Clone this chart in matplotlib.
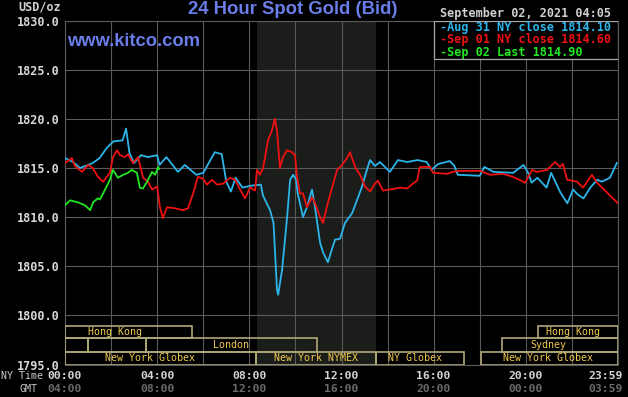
import matplotlib
matplotlib.use("Agg")
import matplotlib.pyplot as plt
import matplotlib.transforms as mtransforms
from matplotlib.patches import Rectangle

# ---- price traces (NY time in hours, USD/oz) ----
aug31_hours = [0.0, 0.35, 0.65, 1.0, 1.2, 1.5, 1.8, 2.1, 2.5, 2.65, 2.8, 3.0, 3.3, 3.6,
               4.0, 4.1, 4.4, 4.9, 5.2, 5.7, 6.0, 6.5, 6.8, 7.0, 7.2, 7.4, 7.7, 8.1,
               8.5, 8.59, 8.9, 9.05, 9.2, 9.25, 9.42, 9.64, 9.77, 9.9, 10.03, 10.1,
               10.33, 10.5, 10.72, 10.85, 11.07, 11.2, 11.41, 11.58, 11.72, 11.94,
               12.15, 12.46, 12.67, 12.89, 13.1, 13.24, 13.45, 13.67, 14.1, 14.45,
               14.85, 15.3, 15.7, 15.9, 16.2, 16.7, 16.9, 17.05, 18.0, 18.2, 18.6,
               19.45, 19.9, 20.1, 20.25, 20.5, 20.9, 21.1, 21.5, 21.8, 22.05, 22.25,
               22.5, 22.8, 23.1, 23.3, 23.65, 23.87, 23.95]
aug31_price = [1816.0, 1815.6, 1815.0, 1815.3, 1815.5, 1816.0, 1817.0, 1817.7, 1817.8,
               1819.0, 1816.5, 1815.5, 1816.3, 1816.1, 1816.3, 1815.3, 1816.1, 1814.6,
               1815.3, 1814.3, 1814.5, 1816.6, 1816.4, 1813.6, 1812.6, 1814.0, 1813.0,
               1813.2, 1813.3, 1812.2, 1810.7, 1809.4, 1802.6, 1802.1, 1804.6, 1810.0,
               1813.8, 1814.3, 1813.8, 1812.4, 1810.0, 1811.0, 1812.8, 1811.0, 1807.4,
               1806.4, 1805.4, 1806.7, 1807.7, 1807.8, 1809.4, 1810.4, 1811.7, 1813.1,
               1814.8, 1815.8, 1815.2, 1815.6, 1814.6, 1815.8, 1815.6, 1815.8, 1815.6,
               1814.8, 1815.4, 1815.7, 1815.2, 1814.3, 1814.2, 1815.1, 1814.6, 1814.5,
               1815.3, 1814.5, 1813.5, 1814.0, 1813.0, 1814.5, 1812.5, 1811.4, 1812.8,
               1812.3, 1811.9, 1813.0, 1813.8, 1813.6, 1814.0, 1815.1, 1815.5]

sep01_hours = [0.0, 0.3, 0.43, 0.74, 1.0, 1.2, 1.43, 1.65, 1.95, 2.08, 2.26, 2.39, 2.6,
               2.73, 2.95, 3.17, 3.39, 3.6, 3.78, 4.0, 4.12, 4.25, 4.43, 4.77, 5.12,
               5.34, 5.56, 5.77, 5.99, 6.16, 6.38, 6.6, 6.86, 7.16, 7.38, 7.6, 7.81,
               8.03, 8.25, 8.33, 8.46, 8.59, 8.81, 8.98, 9.11, 9.2, 9.33, 9.46, 9.64,
               9.85, 9.98, 10.07, 10.2, 10.33, 10.5, 10.72, 10.85, 11.07, 11.2, 11.37,
               11.59, 11.81, 12.02, 12.24, 12.37, 12.59, 12.8, 13.02, 13.24, 13.45,
               13.58, 13.8, 14.1, 14.54, 14.84, 15.1, 15.28, 15.4, 15.84, 15.97, 16.58,
               16.84, 17.06, 18.01, 18.45, 19.0, 19.44, 19.97, 20.27, 20.49, 20.92,
               21.27, 21.48, 21.61, 21.79, 22.22, 22.48, 22.87, 23.09, 23.52, 23.78, 24.0]
sep01_price = [1815.5, 1816.0, 1815.2, 1814.6, 1815.3, 1815.0, 1814.1, 1813.6, 1814.5,
               1816.1, 1816.8, 1816.3, 1816.1, 1816.4, 1815.5, 1816.1, 1814.0, 1813.6,
               1812.8, 1813.1, 1811.0, 1809.9, 1811.0, 1810.9, 1810.7, 1810.9, 1812.4,
               1814.1, 1813.9, 1813.3, 1813.8, 1813.3, 1813.4, 1814.0, 1813.8, 1812.8,
               1811.9, 1813.0, 1812.7, 1814.8, 1814.3, 1814.9, 1817.8, 1818.8, 1820.0,
               1818.8, 1815.0, 1816.1, 1816.8, 1816.6, 1816.3, 1814.1, 1812.4, 1812.4,
               1811.0, 1812.0, 1811.4, 1810.0, 1809.4, 1811.1, 1813.0, 1814.8, 1815.3,
               1816.0, 1816.6, 1815.1, 1814.3, 1813.1, 1812.6, 1813.4, 1813.7, 1812.7,
               1812.8, 1813.0, 1812.9, 1813.4, 1813.7, 1815.1, 1815.1, 1814.5, 1814.4,
               1814.6, 1814.7, 1814.7, 1814.3, 1814.4, 1814.1, 1813.5, 1814.8, 1814.6,
               1814.8, 1815.6, 1815.1, 1815.4, 1813.8, 1813.6, 1813.0, 1814.3, 1813.5,
               1812.5, 1811.9, 1811.4]

sep02_hours = [0.0, 0.22, 0.56, 0.87, 1.09, 1.22, 1.43, 1.52, 1.74, 1.95, 2.08, 2.3,
               2.52, 2.73, 2.9, 3.12, 3.25, 3.38, 3.56, 3.78, 3.91, 4.05, 4.08]
sep02_price = [1811.2, 1811.7, 1811.5, 1811.2, 1810.7, 1811.5, 1811.9, 1811.8, 1812.8,
               1813.8, 1814.8, 1814.0, 1814.3, 1814.5, 1814.8, 1814.5, 1813.0, 1812.9,
               1813.6, 1814.6, 1814.3, 1815.1, 1814.9]

legend_labels = ["-Aug 31 NY close 1814.10", "-Sep 01 NY close 1814.60", "-Sep 02 Last 1814.90"]

# x axis labels
tick_hours = [0, 4, 8, 12, 16, 20, 24]
ny_labels = ["00:00", "04:00", "08:00", "12:00", "16:00", "20:00", "23:59"]
gmt_labels = ["04:00", "08:00", "12:00", "16:00", "20:00", "00:00", "03:59"]
y_ticks = [1795, 1800, 1805, 1810, 1815, 1820, 1825, 1830]

# trading sessions: label, row, start, end, label centre
sess_label = ["Hong Kong", "", "", "London", "New York Globex", "New York NYMEX",
              "NY Globex", "New York Globex", "Sydney", "Hong Kong"]
sess_row = [0, 1, 1, 1, 2, 2, 2, 2, 1, 0]
sess_start = [0.0, 0.0, 1.0, 3.52, 0.0, 8.29, 13.5, 18.05, 18.97, 20.53]
sess_end = [5.51, 1.0, 3.52, 10.94, 8.29, 13.5, 17.3, 23.98, 23.98, 23.98]
sess_text_x = [2.15, None, None, 7.2, 3.7, 10.9, 15.2, 20.95, 20.96, 22.05]
row_bounds = [(1797.67, 1798.92), (1796.30, 1797.67), (1795.0, 1796.30)]
nymex_span = (8.33, 13.5)

MONO = "DejaVu Sans Mono"
W, H = 628, 397
GRID = "#5a5a5a"
BLUE = "#2cb5ea"
RED = "#ee1111"
GREEN = "#22e822"
TITLE_BLUE = "#6a7de8"
SESS_EDGE = "#b0a878"
SESS_TEXT = "#f0c850"


def fx(px):
    return px / W


def fy(py):
    return 1 - py / H


fig = plt.figure(figsize=(W / 100, H / 100), dpi=100, facecolor="black")
ax = fig.add_axes([fx(65), fy(364.5), 553 / W, 344 / H], facecolor="black")
ax.set_xlim(0, 24)
ax.set_ylim(1795, 1830)
ax.set_axisbelow(True)

ax.axvspan(*nymex_span, color="#1b1d1b", zorder=0, lw=0)

ax.set_xticks(range(0, 25, 2))
ax.set_xticklabels([])
ax.set_yticks(y_ticks)
ax.set_yticklabels([f"{v:.1f}" for v in y_ticks])
ax.tick_params(length=0, pad=4, labelcolor="#d8d8d8", labelsize=8.5)
for lbl in ax.get_yticklabels():
    lbl.set_fontfamily(MONO)
    lbl.set_fontweight("bold")
ax.grid(True, color=GRID, lw=0.8)
for sp in ax.spines.values():
    sp.set_color(GRID)
    sp.set_linewidth(0.8)

ax.plot(aug31_hours, aug31_price, color=BLUE, lw=1.3, zorder=3)
ax.plot(sep01_hours, sep01_price, color=RED, lw=1.3, zorder=3)
ax.plot(sep02_hours, sep02_price, color=GREEN, lw=1.3, zorder=3)

# session boxes
for lab, row, s, e, tx in zip(sess_label, sess_row, sess_start, sess_end, sess_text_x):
    lo, hi = row_bounds[row]
    ax.add_patch(Rectangle((s, lo), e - s, hi - lo, fill=False, edgecolor=SESS_EDGE,
                           lw=1.2, zorder=4))
    if lab:
        ax.text(tx, (lo + hi) / 2, lab, ha="center", va="center", fontsize=7.2,
                family=MONO, color=SESS_TEXT, zorder=5)

# legend box
ax.add_patch(Rectangle((16 / 24, 0.887), 8 / 24, 0.113, transform=ax.transAxes,
                       facecolor="black", edgecolor="#a8a8a8", lw=0.9, zorder=6))
for i, (txt, col) in enumerate(zip(legend_labels, [BLUE, RED, GREEN])):
    fig.text(fx(440), fy(27 + 12.6 * i), txt, ha="left", va="center", family=MONO,
             fontsize=8.5, fontweight="bold", color=col)

# x labels
trans = mtransforms.blended_transform_factory(ax.transData, fig.transFigure)
for i, (h, ny, gmt) in enumerate(zip(tick_hours, ny_labels, gmt_labels)):
    ha = "right" if i == len(tick_hours) - 1 else "center"
    tr = mtransforms.offset_copy(trans, fig, x=5 if ha == "right" else 0, units="dots")
    ax.text(h, fy(376), ny, transform=tr, ha=ha, va="center", family=MONO,
            fontsize=8.2, fontweight="bold", color="#d4d4d4")
    ax.text(h, fy(389), gmt, transform=tr, ha=ha, va="center", family=MONO,
            fontsize=8.2, fontweight="bold", color="#6a6a6a")
fig.text(fx(1), fy(376), "NY Time", ha="left", va="center", family=MONO,
         fontsize=7.2, color="#c8c8c8")
fig.text(fx(20), fy(389), "GMT", ha="left", va="center", family=MONO,
         fontsize=7.2, color="#c8c8c8")

# titles and header
fig.text(fx(293), fy(9.5), "24 Hour Spot Gold (Bid)", ha="center", va="center",
         family="Liberation Sans", fontweight="bold", fontsize=13.3, color=TITLE_BLUE)
fig.text(fx(67), fy(42), "www.kitco.com", ha="left", va="center",
         family="Liberation Sans", fontweight="bold", fontsize=13.2, color=TITLE_BLUE)
fig.text(fx(440), fy(13), "September 02, 2021 04:05", ha="left", va="center",
         family=MONO, fontsize=8.5, fontweight="bold", color="#d0d0d0")
fig.text(fx(18), fy(7), "USD/oz", ha="left", va="center", family=MONO,
         fontsize=8.5, fontweight="bold", color="#d0d0d0")

fig.savefig("out.png", dpi=100, facecolor="black")
